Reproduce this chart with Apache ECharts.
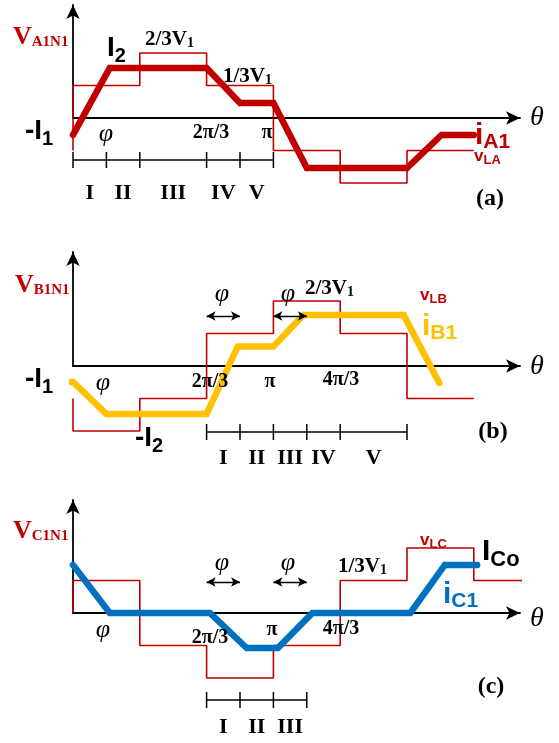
<!DOCTYPE html>
<html>
<head>
<meta charset="utf-8">
<script src="https://cdn.jsdelivr.net/npm/echarts@6/dist/echarts.min.js"></script>
<style>
html, body { margin: 0; padding: 0; background: #fff; }
#chart { width: 559px; height: 743px; }
</style>
</head>
<body>
<div id="chart"></div>
<script>
// angles in degrees, levels in units of V1/3
const stepEdgesAB = [0, 60, 120, 180, 240, 300, 360];
const stepEdgesC = [0, 60, 120, 180, 240, 300, 360, 420];
const vLAStart = -1, vLA = [1, 2, 1, -1, -2, -1];
const vLBStart = -1, vLB = [-2, -1, 1, 2, 1, -1];
const vLCStart = 0, vLC = [1, -1, -2, -1, 1, 2, 1];

// thick phase currents: [angle, level]
const iA1 = [[0, -0.52], [33, 1.54], [120, 1.54], [150, 0.46], [180, 0.46], [210, -1.54], [300, -1.54], [331, -0.52], [360, -0.52]];
const iB1 = [[-13.5, -0.49], [0, -0.49], [30, -1.48], [120, -1.48], [148, 0.6], [180, 0.6], [207, 1.57], [297, 1.57], [329, -0.52]];
const iC1 = [[0, 1.48], [33, 0], [123, 0], [156, -1.08], [184, -1.08], [215, 0], [303, 0], [334, 1.48], [363, 1.48]];

// interval marks under the axis
const segA = [0, 30, 60, 120, 150, 180];
const segB = [120, 150, 180, 210, 240, 300];
const segC = [120, 150, 180, 210];
const romanA = ['I', 'II', 'III', 'IV', 'V'];
const romanB = ['I', 'II', 'III', 'IV', 'V'];
const romanC = ['I', 'II', 'III'];
// phi shift arrows
const phiB = [[120, 150], [180, 210]];
const phiC = [[120, 150], [180, 210]];

const PX_DEG = 33.4 / 30;
const PX_V = 32.5;
const RED = '#C00000';
const SERIF = '"Liberation Serif", "Times New Roman", serif';
const SANS = '"Liberation Sans", Arial, sans-serif';

const panels = [
  { top: 5, axisY: 118, steps: stepEdgesAB, start: vLAStart, levels: vLA, cur: iA1, color: RED,
    seg: segA, roman: romanA, barPx: 42, romanPx: 75, phi: [], phiPx: 0 },
  { top: 252, axisY: 366, steps: stepEdgesAB, start: vLBStart, levels: vLB, cur: iB1, color: '#FFC000',
    seg: segB, roman: romanB, barPx: 66, romanPx: 92, phi: phiB, phiPx: 50 },
  { top: 500, axisY: 613, steps: stepEdgesC, start: vLCStart, levels: vLC, cur: iC1, color: '#0070C0',
    seg: segC, roman: romanC, barPx: 87, romanPx: 114, phi: phiC, phiPx: 31 }
];

function stepData(edges, start, levels) {
  const d = [[edges[0], start]];
  levels.forEach((v, i) => { d.push([edges[i], v]); d.push([edges[i + 1], v]); });
  return d;
}

const grids = [], xAxes = [], yAxes = [], series = [];
panels.forEach((p, k) => {
  const w = 447, h = p.axisY - p.top;
  grids.push({ left: 73, top: p.top, width: w, height: h });
  const ax = {
    gridIndex: k, type: 'value', min: 0,
    axisLine: { onZero: false, symbol: ['none', 'arrow'], symbolSize: [10, 14], lineStyle: { color: '#000', width: 1.8 } },
    axisTick: { show: false }, axisLabel: { show: false }, splitLine: { show: false }
  };
  xAxes.push(Object.assign({}, ax, { max: w / PX_DEG }));
  yAxes.push(Object.assign({}, ax, { max: h / PX_V }));
  const barY = -p.barPx / PX_V, romanY = -p.romanPx / PX_V, phiY = p.phiPx / PX_V;
  series.push({
    type: 'line', xAxisIndex: k, yAxisIndex: k, clip: false, symbol: 'none', z: 3,
    data: stepData(p.steps, p.start, p.levels),
    lineStyle: { color: RED, width: 1.6 }
  });
  series.push({
    type: 'line', xAxisIndex: k, yAxisIndex: k, clip: false, symbol: 'none', z: 4,
    data: p.cur,
    lineStyle: { color: p.color, width: 6.5, cap: 'round', join: 'miter' },
    markLine: {
      silent: true, symbol: ['arrow', 'arrow'], symbolSize: [7, 9],
      lineStyle: { color: '#000', width: 1.3, type: 'solid' }, label: { show: false },
      data: p.phi.map(a => [{ coord: [a[0], phiY] }, { coord: [a[1], phiY] }])
    }
  });
  series.push({
    type: 'line', xAxisIndex: k, yAxisIndex: k, clip: false, symbol: 'none', z: 2,
    data: [[p.seg[0], barY], [p.seg[p.seg.length - 1], barY]],
    lineStyle: { color: '#000', width: 1.4 }
  });
  series.push({
    type: 'scatter', xAxisIndex: k, yAxisIndex: k, clip: false, z: 2,
    symbol: 'rect', symbolSize: [1.5, 16], itemStyle: { color: '#000', opacity: 1 },
    data: p.seg.map(s => [s, barY])
  });
  series.push({
    type: 'scatter', xAxisIndex: k, yAxisIndex: k, clip: false, symbolSize: 0,
    itemStyle: { opacity: 1 },
    data: p.roman.map((r, i) => [(p.seg[i] + p.seg[i + 1]) / 2, romanY]),
    label: {
      show: true, position: 'inside', color: '#000',
      fontFamily: SERIF, fontWeight: 'bold', fontSize: 22,
      formatter: (q) => p.roman[q.dataIndex]
    }
  });
});

// text helpers
function sub(x, y, main, s, font, mSize, sSize, color, drop) {
  return {
    type: 'text', x: x, y: y, z: 10,
    style: {
      text: '{m|' + main + '}{s|' + s + '}', align: 'left', verticalAlign: 'middle',
      rich: {
        m: { fontFamily: font, fontWeight: 'bold', fontSize: mSize, lineHeight: mSize, fill: color, verticalAlign: 'bottom', padding: [0, 0, drop || 0, 0] },
        s: { fontFamily: font, fontWeight: 'bold', fontSize: sSize, lineHeight: sSize, fill: color, verticalAlign: 'bottom' }
      }
    }
  };
}
function plain(x, y, t, font, size, opts) {
  return {
    type: 'text', x: x, y: y, z: 10,
    style: Object.assign({ text: t, align: 'center', verticalAlign: 'middle', fontFamily: font, fontSize: size, fontWeight: 'bold', fill: '#000' }, opts || {})
  };
}
const ital = { fontStyle: 'italic', fontWeight: 'normal' };

const texts = [
  // (a)
  sub(13, 37, 'V', 'A1N1', SERIF, 26, 15, RED),
  sub(107, 52, 'I', '2', SANS, 28, 20, '#000', 4),
  sub(145, 40, '2/3V', '1', SERIF, 21, 14, '#000'),
  sub(223, 77, '1/3V', '1', SERIF, 21, 14, '#000'),
  sub(25, 135, '-I', '1', SANS, 28, 20, '#000', 4),
  plain(106, 134, 'φ', SERIF, 26, ital),
  plain(211, 133, '2π/3', SERIF, 20),
  plain(267, 133, 'π', SERIF, 20),
  plain(537, 118, 'θ', SERIF, 28, ital),
  sub(475, 138, 'i', 'A1', SANS, 30, 21, RED, 2),
  sub(474, 158, 'v', 'LA', SANS, 17, 13, RED, 2),
  plain(490, 199, '(a)', SERIF, 24),
  // (b)
  sub(15, 285, 'V', 'B1N1', SERIF, 26, 15, RED),
  plain(222, 294, 'φ', SERIF, 26, ital),
  plain(288, 294, 'φ', SERIF, 26, ital),
  sub(305, 289, '2/3V', '1', SERIF, 21, 14, '#000'),
  sub(420, 297, 'v', 'LB', SANS, 17, 13, RED, 2),
  sub(422, 329, 'i', 'B1', SANS, 30, 21, '#FFC000', 2),
  plain(537, 367, 'θ', SERIF, 28, ital),
  sub(25, 383, '-I', '1', SANS, 28, 20, '#000', 4),
  plain(103, 383, 'φ', SERIF, 26, ital),
  plain(210, 382, '2π/3', SERIF, 20),
  plain(270, 382, 'π', SERIF, 20),
  plain(341, 380, '4π/3', SERIF, 20),
  sub(135, 442, '-I', '2', SANS, 28, 20, '#000', 4),
  plain(493, 432, '(b)', SERIF, 24),
  // (c)
  sub(13, 531, 'V', 'C1N1', SERIF, 26, 15, RED),
  plain(103, 630, 'φ', SERIF, 26, ital),
  plain(210, 638, '2π/3', SERIF, 20),
  plain(272, 630, 'π', SERIF, 20),
  plain(222, 563, 'φ', SERIF, 26, ital),
  plain(288, 563, 'φ', SERIF, 26, ital),
  plain(341, 629, '4π/3', SERIF, 20),
  sub(338, 567, '1/3V', '1', SERIF, 21, 14, '#000'),
  sub(420, 542, 'v', 'LC', SANS, 17, 13, RED, 2),
  sub(482, 556, 'I', 'Co', SANS, 30, 22, '#000', 4),
  sub(443, 597, 'i', 'C1', SANS, 30, 21, '#0070C0', 2),
  plain(537, 619, 'θ', SERIF, 28, ital),
  plain(491, 687, '(c)', SERIF, 24)
];

const chart = echarts.init(document.getElementById('chart'), null, { renderer: 'canvas' });
chart.setOption({
  animation: false,
  backgroundColor: '#fff',
  grid: grids,
  xAxis: xAxes,
  yAxis: yAxes,
  series: series,
  graphic: texts
});
</script>
</body>
</html>
